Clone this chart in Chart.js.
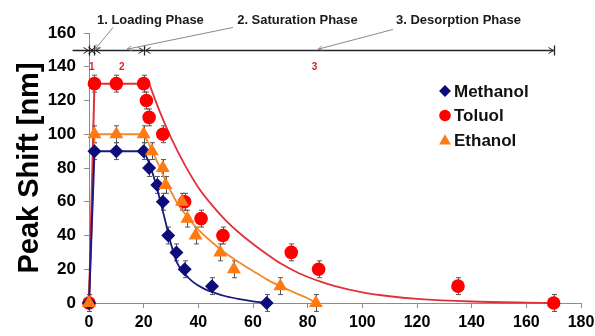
<!DOCTYPE html>
<html>
<head>
<meta charset="utf-8">
<script src="https://cdn.jsdelivr.net/npm/chart.js@4.4.1/dist/chart.umd.min.js"></script>
<style>
  html, body { margin: 0; padding: 0; background: #fff; }
  #wrap { width: 595px; height: 336px; position: relative; }
</style>
</head>
<body>
<div id="wrap"><canvas id="c" width="595" height="336"></canvas></div>
<script>
// ---------- data ----------
const SERIES_NAMES = ['Methanol', 'Toluol', 'Ethanol'];

const METHANOL_X = [0, 2, 10, 20, 22, 25, 27, 29, 32, 35, 45, 65];
const METHANOL_Y = [0, 90, 90, 90, 80, 70, 60, 40, 30, 20, 10, 0];

const TOLUOL_X = [0, 2, 10, 20, 21, 22, 27, 35, 41, 49, 74, 84, 135, 170];
const TOLUOL_Y = [0, 130, 130, 130, 120, 110, 100, 60, 50, 40, 30, 20, 10, 0];

const ETHANOL_X = [0, 2, 10, 20, 23, 27, 28, 34, 36, 39, 48, 53, 70, 83];
const ETHANOL_Y = [0, 100, 100, 100, 90, 80, 70, 60, 50, 40, 30, 20, 10, 0];

const ERROR_BAR = 5; // +/- nm

// fitted curves
const METHANOL_FIT_X = [0, 2, 20, 22, 24, 26, 28, 30, 32, 35, 38, 42, 46, 50, 55, 60, 65];
const METHANOL_FIT_Y = [0, 90, 90, 83, 73, 61, 48, 35, 24.5, 17.5, 12.5, 8.5, 6, 4, 2.3, 1, 0];

const TOLUOL_FIT_X = [0, 2, 20, 22, 26, 30, 35, 40, 45, 50, 55, 60, 65, 70, 77, 85, 90, 100, 110, 120, 140, 160, 170];
const TOLUOL_FIT_Y = [0, 130, 130, 130, 113, 98, 82, 68.5, 58, 49, 41.5, 35, 29, 23.5, 17.5, 12.5, 10, 6.3, 4, 2.5, 0.9, 0.2, 0];

const ETHANOL_FIT_X = [0, 2, 20, 22, 24, 26, 28, 30, 32, 35, 40, 45, 50, 55, 60, 65, 70, 75, 80, 83];
const ETHANOL_FIT_Y = [0, 100, 100, 94, 87, 80, 72.5, 66, 60, 53, 43.5, 36, 29.5, 24, 19, 14, 10, 6.3, 2.8, 0];

// phases
const PHASE_BOUNDS = [0, 2, 20, 170];
const PHASE_NAMES = ['1. Loading Phase', '2. Saturation Phase', '3. Desorption Phase'];
const PHASE_NUMBERS = ['1', '2', '3'];

// ---------- layout / styling (not data) ----------
const FONT = '"Liberation Sans", Arial, sans-serif';
const COLORS = {
  Methanol: { point: '#0c0c7a', line: '#1a1a80' },
  Toluol:   { point: '#ff0000', line: '#e2303a' },
  Ethanol:  { point: '#ff7a12', line: '#f28a2e' }
};
const MARKERS = {
  Methanol: { style: 'rectRot', r: 7 },
  Toluol:   { style: 'circle', r: 6.8 },
  Ethanol:  { style: 'triangle', r: 8 }
};
const DIM_LINE_Y = 150;          // data units
const DIM_LINE_START = -6;       // data units
const PHASE_TEXT_POS = [[2.9, 167.4], [54.2, 167.4], [112.3, 167.4]];
const CALLOUT_FROM = [[8.8, 163.3], [52.7, 163.3], [111.2, 162.1]];
const CALLOUT_TO = [[2.2, 150.4], [13.9, 150.4], [83.8, 150.4]];
const PHASE_NUM_POS = [[1, 140], [12, 140], [82.5, 140]];

function pts(xs, ys) { return xs.map((x, i) => ({ x: x, y: ys[i] })); }
function splitFit(xs, ys) {
  const mx = Math.max.apply(null, ys);
  let k = 0;
  ys.forEach((y, i) => { if (y === mx) k = i; });
  return { plateau: pts(xs.slice(0, k + 1), ys.slice(0, k + 1)), decay: pts(xs.slice(k), ys.slice(k)) };
}

const seriesData = {
  Methanol: { pts: pts(METHANOL_X, METHANOL_Y), fit: splitFit(METHANOL_FIT_X, METHANOL_FIT_Y) },
  Toluol:   { pts: pts(TOLUOL_X, TOLUOL_Y),     fit: splitFit(TOLUOL_FIT_X, TOLUOL_FIT_Y) },
  Ethanol:  { pts: pts(ETHANOL_X, ETHANOL_Y),   fit: splitFit(ETHANOL_FIT_X, ETHANOL_FIT_Y) }
};

const drawOrder = { Ethanol: 0, Methanol: 1, Toluol: 2 };
const datasets = [];
SERIES_NAMES.forEach(name => {
  const m = MARKERS[name], c = COLORS[name];
  datasets.push({
    label: name, isMarker: true, data: seriesData[name].pts, showLine: false,
    pointStyle: m.style, pointRadius: m.r, pointHoverRadius: m.r,
    backgroundColor: c.point, borderColor: c.point, pointBorderWidth: 0,
    order: drawOrder[name], clip: false
  });
});
SERIES_NAMES.forEach(name => {
  const c = COLORS[name], f = seriesData[name].fit;
  datasets.push({ label: name + ' fit a', type: 'line', data: f.plateau, showLine: true,
    pointRadius: 0, borderColor: c.line, borderWidth: 2, tension: 0, fill: false, order: 10, clip: false });
  datasets.push({ label: name + ' fit b', type: 'line', data: f.decay, showLine: true,
    pointRadius: 0, borderColor: c.line, borderWidth: 1.8, cubicInterpolationMode: 'monotone', fill: false, order: 10, clip: false });
});

function arrowHead(ctx, x, y, dir, len, half) {
  ctx.beginPath();
  ctx.moveTo(x - dir * len, y - half);
  ctx.lineTo(x, y);
  ctx.lineTo(x - dir * len, y + half);
  ctx.stroke();
}

const errorBars = {
  id: 'errorBars',
  beforeDatasetsDraw(chart) {
    const ctx = chart.ctx, ys = chart.scales.y;
    ctx.save();
    ctx.strokeStyle = '#555';
    ctx.lineWidth = 1;
    chart.data.datasets.forEach((ds, i) => {
      if (!ds.isMarker) return;
      const meta = chart.getDatasetMeta(i);
      meta.data.forEach((el, j) => {
        const v = ds.data[j].y;
        const x = Math.round(el.x) + 0.5;
        const y1 = ys.getPixelForValue(v + ERROR_BAR);
        const y2 = ys.getPixelForValue(v - ERROR_BAR);
        ctx.beginPath();
        ctx.moveTo(x, y1); ctx.lineTo(x, y2);
        ctx.moveTo(x - 2.5, y1); ctx.lineTo(x + 2.5, y1);
        ctx.moveTo(x - 2.5, y2); ctx.lineTo(x + 2.5, y2);
        ctx.stroke();
      });
    });
    ctx.restore();
  }
};

const annotations = {
  id: 'annotations',
  afterDraw(chart) {
    const ctx = chart.ctx, xs = chart.scales.x, ys = chart.scales.y;
    const X = v => xs.getPixelForValue(v), Y = v => ys.getPixelForValue(v);
    ctx.save();
    const yl = Math.round(Y(DIM_LINE_Y)) + 0.5;
    ctx.strokeStyle = '#222';
    ctx.lineWidth = 1.3;
    ctx.beginPath();
    ctx.moveTo(X(DIM_LINE_START), yl);
    ctx.lineTo(X(PHASE_BOUNDS[PHASE_BOUNDS.length - 1]), yl);
    ctx.stroke();
    PHASE_BOUNDS.forEach((b, i) => {
      const xb = Math.round(X(b)) + 0.5;
      ctx.lineWidth = 1.3;
      ctx.beginPath(); ctx.moveTo(xb, yl - 5); ctx.lineTo(xb, yl + 5); ctx.stroke();
      ctx.lineWidth = 1;
      arrowHead(ctx, xb - 1, yl, 1, 5, 3);
      if (i < PHASE_BOUNDS.length - 1) arrowHead(ctx, xb + 1, yl, -1, 5, 3);
    });
    ctx.strokeStyle = '#8a8a8a';
    ctx.lineWidth = 1;
    CALLOUT_FROM.forEach((p, i) => {
      const x1 = X(p[0]), y1 = Y(p[1]), x2 = X(CALLOUT_TO[i][0]), y2 = Y(CALLOUT_TO[i][1]);
      ctx.beginPath(); ctx.moveTo(x1, y1); ctx.lineTo(x2, y2); ctx.stroke();
      const a = Math.atan2(y2 - y1, x2 - x1);
      ctx.beginPath();
      ctx.moveTo(x2 - 5 * Math.cos(a - 0.45), y2 - 5 * Math.sin(a - 0.45));
      ctx.lineTo(x2, y2);
      ctx.lineTo(x2 - 5 * Math.cos(a + 0.45), y2 - 5 * Math.sin(a + 0.45));
      ctx.stroke();
    });
    ctx.fillStyle = '#1a1a1a';
    ctx.font = 'bold 13px ' + FONT;
    ctx.textAlign = 'left';
    ctx.textBaseline = 'middle';
    PHASE_NAMES.forEach((t, i) => ctx.fillText(t, X(PHASE_TEXT_POS[i][0]), Y(PHASE_TEXT_POS[i][1])));
    ctx.fillStyle = '#e0201e';
    ctx.font = 'bold 10px ' + FONT;
    ctx.textAlign = 'center';
    PHASE_NUMBERS.forEach((t, i) => ctx.fillText(t, X(PHASE_NUM_POS[i][0]), Y(PHASE_NUM_POS[i][1])));
    ctx.restore();
  }
};

const legendPlugin = {
  id: 'customLegend',
  afterDraw(chart) {
    const ctx = chart.ctx, area = chart.chartArea;
    const x0 = area.right - 136, y0 = area.top + 58, step = 24.5;
    ctx.save();
    SERIES_NAMES.forEach((name, i) => {
      const y = y0 + i * step;
      const m = MARKERS[name];
      ctx.fillStyle = COLORS[name].point;
      ctx.strokeStyle = COLORS[name].point;
      Chart.helpers.drawPoint(ctx, { pointStyle: m.style, radius: m.r * 0.85, rotation: 0, borderWidth: 0 }, x0, y + (m.style === 'triangle' ? 1 : 0));
      ctx.fillStyle = '#111';
      ctx.font = 'bold 17px ' + FONT;
      ctx.textAlign = 'left';
      ctx.textBaseline = 'middle';
      ctx.fillText(name, x0 + 9, y + 1);
    });
    ctx.restore();
  }
};

const axisGrid = { drawOnChartArea: false, drawTicks: true, tickLength: 5, color: '#8c8c8c', lineWidth: 1 };

new Chart(document.getElementById('c'), {
  type: 'scatter',
  data: { datasets: datasets },
  options: {
    responsive: false,
    animation: false,
    devicePixelRatio: 1,
    layout: { padding: { top: 33, right: 14, left: 0, bottom: 0 } },
    plugins: { legend: { display: false }, tooltip: { enabled: false } },
    scales: {
      x: {
        type: 'linear', min: 0, max: 180,
        ticks: { stepSize: 20, color: '#000', font: { family: FONT, size: 16, weight: 'bold' }, padding: 5, maxRotation: 0 },
        grid: axisGrid,
        border: { display: true, color: '#8c8c8c', width: 1 },
        afterFit(s) { s.height = 33; s.paddingLeft = 0; s.paddingRight = 0; }
      },
      y: {
        type: 'linear', min: 0, max: 160,
        ticks: { stepSize: 20, color: '#000', font: { family: FONT, size: 17, weight: 'bold' }, padding: 8 },
        grid: axisGrid,
        border: { display: true, color: '#8c8c8c', width: 1 },
        title: { display: true, text: 'Peak Shift [nm]', color: '#000', font: { family: FONT, size: 29, weight: 'bold' }, padding: { top: 13, bottom: 0 } },
        afterFit(s) { s.width = 89; s.paddingTop = 0; s.paddingBottom = 0; }
      }
    }
  },
  plugins: [errorBars, annotations, legendPlugin]
});
</script>
</body>
</html>
